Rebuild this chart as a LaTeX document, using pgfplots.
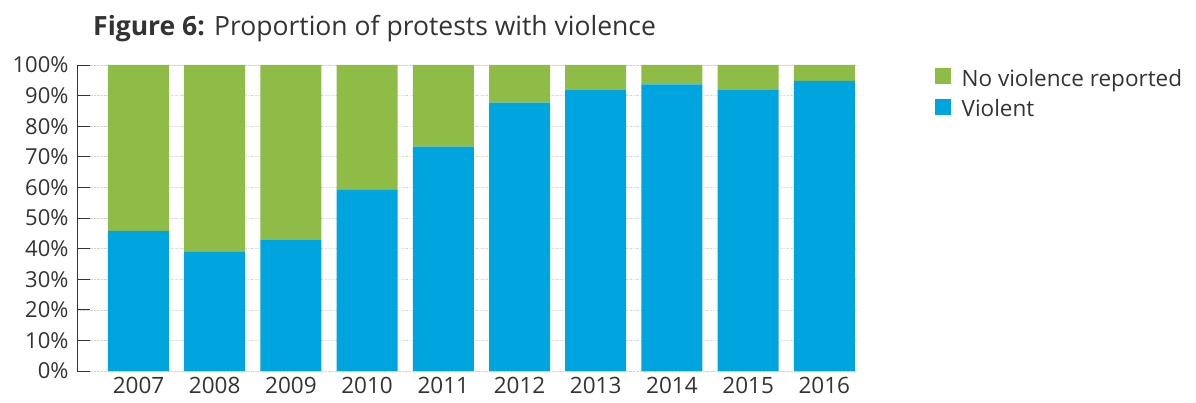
\documentclass[border=0pt]{standalone}
\usepackage{pgfplots}
\pgfplotsset{compat=1.18}
\usepackage{fontspec}
\setmainfont{Open Sans}
\definecolor{cgreen}{HTML}{8FBC47}
\definecolor{cblue}{HTML}{00A5DF}
\definecolor{ctext}{HTML}{333333}
\begin{document}
\begin{tikzpicture}
\begin{axis}[
  scale only axis,
  clip=false,
  width=781pt, height=306pt,
  xmin=-0.807, xmax=9.442,
  ymin=0, ymax=100,
  ybar stacked, bar width=61pt,
  axis lines*=left,
  x axis line style={draw=none},
  xtick={0,...,9},
  xticklabels={2007,2008,2009,2010,2011,2012,2013,2014,2015,2016},
  xtick style={draw=none},
  ytick={0,10,...,100},
  yticklabels={0\%,10\%,20\%,30\%,40\%,50\%,60\%,70\%,80\%,90\%,100\%},
  tick align=inside,
  major tick length=13pt,
  ytick style={draw=ctext, line width=0.8pt},
  y axis line style={draw=ctext, line width=0.8pt},
  yticklabel style={xshift=-5pt, font=\fontsize{22}{24}\selectfont},
  xticklabel style={yshift=-3pt, font=\fontsize{22.5}{25}\selectfont},
  ymajorgrids,
  grid style={gray!35, densely dotted, line width=0.6pt},
  tick label style={text=ctext},
  reverse legend,
  legend style={draw=none, fill=none, at={(rel axis cs:1.094,1.0)}, anchor=north west,
    font=\fontsize{22.5}{25}\selectfont, text=ctext, row sep=8pt,
    /tikz/every odd column/.append style={column sep=9pt}},
  legend cell align=left,
  legend image code/.code={\fill[#1] (0pt,-6pt) rectangle (16pt,10pt);},
]
\addplot[fill=cblue, draw=none] coordinates {(0,45.8) (1,38.9) (2,42.8) (3,59.2) (4,73.3) (5,87.7) (6,91.8) (7,93.7) (8,91.8) (9,94.8)};
\addlegendentry{Violent}
\addplot[fill=cgreen, draw=none] coordinates {(0,54.2) (1,61.1) (2,57.2) (3,40.8) (4,26.7) (5,12.3) (6,8.2) (7,6.3) (8,8.2) (9,5.2)};
\addlegendentry{No violence reported}
\pgfplotsinvokeforeach{10,20,...,90}{\draw[white, opacity=0.5, densely dashed, line width=0.6pt] (axis cs:-0.4,#1) -- (axis cs:9.4,#1);}
\node[anchor=base west, font=\fontsize{26.5}{30}\selectfont, text=ctext, inner sep=0pt] at (rel axis cs:0.0205,1.098) {\textbf{Figure 6:} Proportion of protests with violence};
\end{axis}
\path (current axis.south west) ++(-77pt,-31pt) rectangle ++(1196pt,402pt);
\end{tikzpicture}
\end{document}
